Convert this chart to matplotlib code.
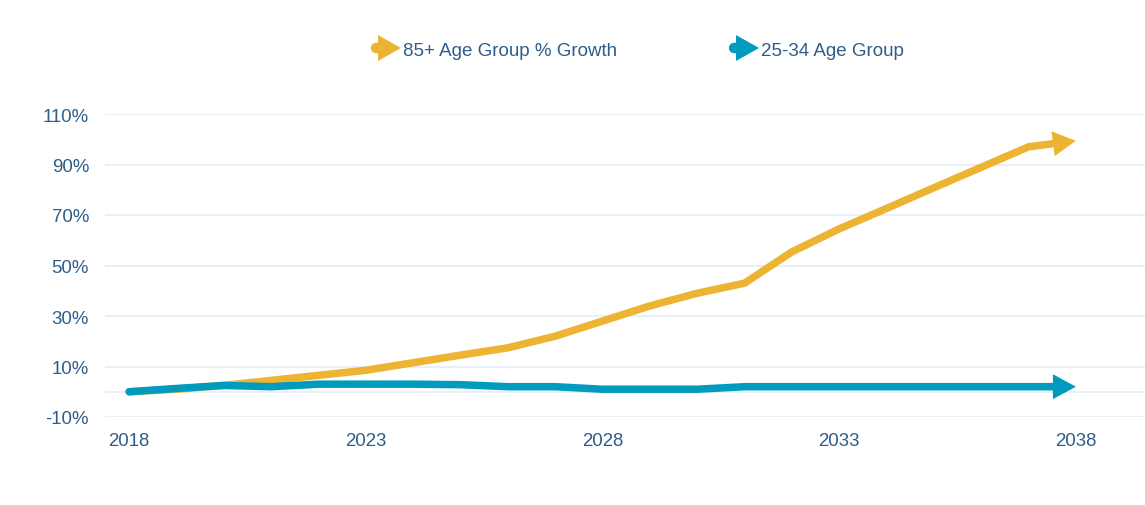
import matplotlib
matplotlib.use("Agg")
import matplotlib.pyplot as plt
from matplotlib.patches import Polygon
import numpy as np

# Data
years = list(range(2018, 2039))
growth_85_plus = [0, 1, 2.5, 4.5, 6.5, 8.5, 11.5, 14.5, 17.4, 22, 28, 34, 39, 43,
                  55.4, 64.5, 72.6, 80.8, 88.9, 97, 99.4]
growth_25_34 = [0, 1.3, 2.5, 2, 3, 3, 3, 2.8, 2, 2, 1, 1, 1, 2, 2, 2, 2, 2, 2, 2, 2]
series_labels = ["85+ Age Group % Growth", "25-34 Age Group"]
y_ticks = [-10, 10, 30, 50, 70, 90, 110]
x_ticks = [2018, 2023, 2028, 2033, 2038]

colors = {
    "yellow": "#EDB333",
    "teal": "#019BBD",
    "text": "#2F5D8A",
    "grid": "#E3EDF6",
}

plt.rcParams["font.family"] = ["Liberation Sans", "DejaVu Sans"]

W, H = 1145, 506
fig = plt.figure(figsize=(W / 100, H / 100), dpi=100)
ax = fig.add_axes([105 / W, (H - 418) / H, 1040 / W, 303 / H])
ax.set_xlim(2017.49, 2039.46)
ax.set_ylim(-10, 110)

for s in ax.spines.values():
    s.set_visible(False)
ax.set_yticks(y_ticks)
ax.set_yticklabels([f"{v}%" for v in y_ticks])
ax.set_xticks(x_ticks)
ax.tick_params(axis="both", length=0, labelsize=13.4, labelcolor=colors["text"])
ax.tick_params(axis="y", pad=11.5)
ax.tick_params(axis="x", pad=10.5)
for v in y_ticks + [0]:
    ax.axhline(v, color=colors["grid"], lw=1.2, zorder=0)

fig.canvas.draw()


def arrow_line(xs, ys, color):
    # body stops at the head base, head drawn as a patch
    pts = ax.transData.transform(np.column_stack([xs, ys]))
    tip, prev = pts[-1], pts[-2]
    d = (tip - prev) / np.linalg.norm(tip - prev)
    head_len, head_half = 23, 12.5
    base = tip - d * head_len
    body = np.vstack([pts[:-1], base])
    body_data = ax.transData.inverted().transform(body)
    ax.plot(body_data[:, 0], body_data[:, 1], color=color, lw=5.4,
            solid_capstyle="round", solid_joinstyle="miter", zorder=3, clip_on=False)
    n = np.array([-d[1], d[0]])
    tri = np.array([tip, base + n * head_half, base - n * head_half])
    tri_data = ax.transData.inverted().transform(tri)
    ax.add_patch(Polygon(tri_data, closed=True, color=color, lw=0, zorder=4, clip_on=False))


arrow_line(years, growth_85_plus, colors["yellow"])
arrow_line(years, growth_25_34, colors["teal"])

# Legend drawn in pixel coordinates
lg = fig.add_axes([0, 0, 1, 1])
lg.set_xlim(0, W)
lg.set_ylim(H, 0)
lg.axis("off")
lg.patch.set_alpha(0)


def legend_item(x, label, color):
    y = 49
    lg.plot([x + 4, x + 8], [y, y], color=color, lw=7.5, solid_capstyle="round")
    lg.add_patch(Polygon([[x + 6, y - 13], [x + 29, y], [x + 6, y + 13]], closed=True,
                         color=color, lw=0))
    lg.text(x + 31, y, label, ha="left", va="center_baseline", fontsize=13.5,
            color=colors["text"])


legend_item(372, series_labels[0], colors["yellow"])
legend_item(730, series_labels[1], colors["teal"])

fig.savefig("out.png", dpi=100, facecolor="white")
